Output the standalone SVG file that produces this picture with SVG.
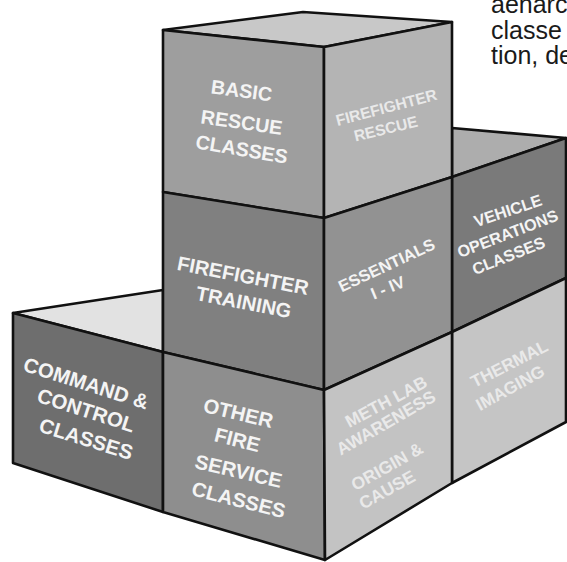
<svg xmlns="http://www.w3.org/2000/svg" width="567" height="562" viewBox="0 0 567 562">
<style>
.f{stroke:#111;stroke-width:2.6;stroke-linejoin:round}
.t{font-family:"Liberation Sans",Arial,sans-serif;font-weight:bold;text-anchor:middle}
.w{fill:#f4f4f4}
.l{fill:#e9e9e9}
.p{font-family:"Liberation Sans",Arial,sans-serif;font-size:25px;fill:#1a1a1a}
</style>
<rect width="567" height="562" fill="#fff"/>
<g id="paragraph">
<text class="p" x="491" y="13">aenarc</text>
<text class="p" x="491" y="39">classe</text>
<text class="p" x="491" y="64">tion, de</text>
</g>
<g id="vehicle-cube">
<polygon class="f" points="452,128 566,138 452,177" fill="#adadad"/>
<polygon class="f" points="452,177 566,138 566,278 452,332" fill="#7a7a7a"/>
<g class="t w" font-size="16.3">
<text x="509.7" y="216" transform="rotate(-18.4 509.7 216)">VEHICLE</text>
<text x="509.7" y="239" transform="rotate(-21 509.7 239)">OPERATIONS</text>
<text x="510.7" y="261" transform="rotate(-21.6 510.7 261)">CLASSES</text>
</g>
</g>
<g id="thermal-cube">
<polygon class="f" points="452,332 566,278 566,422 452,483" fill="#c5c5c5"/>
<g class="t l" font-size="17.2">
<text x="512" y="369" transform="rotate(-27 512 369)">THERMAL</text>
<text x="513" y="393" transform="rotate(-28.8 513 393)">IMAGING</text>
</g>
</g>
<g id="command-cube">
<polygon class="f" points="13,313 163,290 163,352" fill="#e2e2e2"/>
<polygon class="f" points="13,313 163,352 163,512 13,463" fill="#6e6e6e"/>
<g class="t w" font-size="20.5">
<text x="84" y="390" transform="rotate(17.5 84 390)">COMMAND &amp;</text>
<text x="84" y="417" transform="rotate(17.8 84 417)">CONTROL</text>
<text x="84" y="445.7" transform="rotate(17.2 84 445.7)">CLASSES</text>
</g>
</g>
<g id="top-cube">
<polygon class="f" points="163,30 303,12 452,22 324,47" fill="#c8c8c8"/>
<polygon class="f" points="163,30 324,47 324,218 163,192" fill="#9e9e9e"/>
<polygon class="f" points="324,47 452,22 452,177 324,218" fill="#b4b4b4"/>
<g class="t w" font-size="19.7">
<text x="240.7" y="97.4" transform="rotate(7.7 240.7 97.4)">BASIC</text>
<text x="240.7" y="129" transform="rotate(8.1 240.7 129)">RESCUE</text>
<text x="240.7" y="156" transform="rotate(9.7 240.7 156)">CLASSES</text>
</g>
<g class="t l" font-size="15.6">
<text x="387.7" y="112.7" transform="rotate(-14.8 387.7 112.7)">FIREFIGHTER</text>
<text x="387" y="134" transform="rotate(-13.5 387 134)">RESCUE</text>
</g>
</g>
<g id="middle-cube">
<polygon class="f" points="163,192 324,218 324,390 163,352" fill="#808080"/>
<polygon class="f" points="324,218 452,177 452,332 324,390" fill="#929292"/>
<g class="t w" font-size="20">
<text x="241.7" y="282.4" transform="rotate(10.9 241.7 282.4)">FIREFIGHTER</text>
<text x="242.4" y="309" transform="rotate(10.9 242.4 309)">TRAINING</text>
</g>
<g class="t w" font-size="16.6">
<text x="389" y="270.4" transform="rotate(-25 389 270.4)">ESSENTIALS</text>
<text x="390" y="293" transform="rotate(-22.6 390 293)">I - IV</text>
</g>
</g>
<g id="bottom-cube">
<polygon class="f" points="163,352 324,390 325,560 163,512" fill="#8e8e8e"/>
<polygon class="f" points="324,390 452,332 452,483 325,560" fill="#c3c3c3"/>
<g class="t w" font-size="20.3">
<text x="236.7" y="420" transform="rotate(13.4 236.7 420)">OTHER</text>
<text x="235.7" y="446.7" transform="rotate(14 235.7 446.7)">FIRE</text>
<text x="237" y="478" transform="rotate(13 237 478)">SERVICE</text>
<text x="237" y="506.7" transform="rotate(14 237 506.7)">CLASSES</text>
</g>
<g class="t l" font-size="17.4">
<text x="389" y="407" transform="rotate(-28 389 407)">METH LAB</text>
<text x="389" y="428" transform="rotate(-30 389 428)">AWARENESS</text>
<text x="390" y="471.7" transform="rotate(-29.7 390 471.7)">ORIGIN &amp;</text>
<text x="390" y="495" transform="rotate(-29 390 495)">CAUSE</text>
</g>
</g>
<g id="connectors"/>
</svg>
